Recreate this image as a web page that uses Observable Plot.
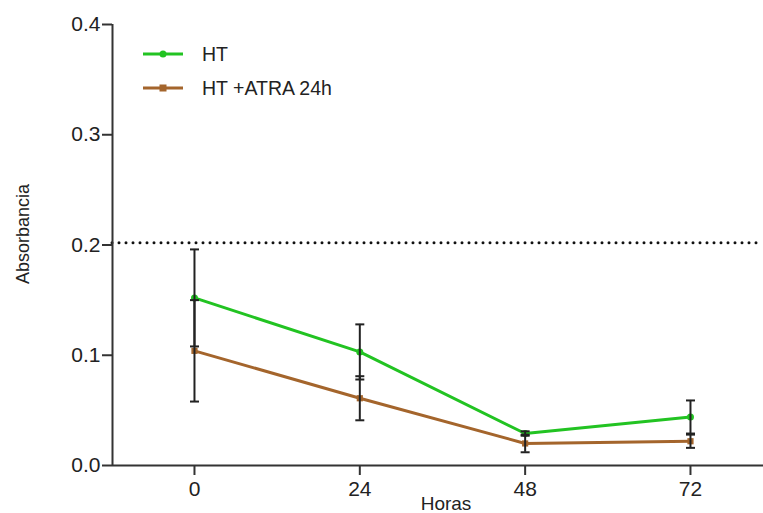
<!DOCTYPE html>
<html><head><meta charset="utf-8">
<script src="https://cdn.jsdelivr.net/npm/d3@7"></script>
<script src="https://cdn.jsdelivr.net/npm/@observablehq/plot@0.6"></script>
<style>
body{margin:0;background:#fff;}
#chart{position:relative;width:763px;height:513px;font-family:"Liberation Sans",Arial,Helvetica,sans-serif;}
#chart svg [aria-label^="x-axis"] path, #chart svg [aria-label^="x-axis"] line,
#chart svg [aria-label^="y-axis"] path, #chart svg [aria-label^="y-axis"] line{stroke-width:2;stroke:#333;}
.legend{position:absolute;left:143px;font-size:19.5px;color:#222;display:flex;align-items:center;white-space:nowrap;}
.legend svg{margin-right:19px;}
</style>
</head><body><div id="chart"></div>
<script>
const hours = [0, 24, 48, 72];
const seriesNames = ["HT", "HT +ATRA 24h"];
const htMean = [0.152, 0.103, 0.029, 0.044];
const htErr = [0.044, 0.025, 0.002, 0.015];
const atraMean = [0.104, 0.061, 0.020, 0.022];
const atraErr = [0.046, 0.020, 0.008, 0.006];
const yTicks = [0, 0.1, 0.2, 0.3, 0.4];
const threshold = [0.202];
const colors = ["#22c322", "#a4652c"];
const xDomain = [-11.9, 82.6];
const yDomain = [0, 0.4];

const rows = [];
hours.forEach((h, i) => {
  rows.push({series: seriesNames[0], hour: h, mean: htMean[i], lo: htMean[i] - htErr[i], hi: htMean[i] + htErr[i]});
});
hours.forEach((h, i) => {
  rows.push({series: seriesNames[1], hour: h, mean: atraMean[i], lo: atraMean[i] - atraErr[i], hi: atraMean[i] + atraErr[i]});
});

const capSymbol = {draw(ctx, size) { const r = Math.sqrt(size / Math.PI); ctx.moveTo(-r, 0); ctx.lineTo(r, 0); }};

const plot = Plot.plot({
  width: 763, height: 513,
  marginLeft: 112, marginRight: 0, marginTop: 24, marginBottom: 48,
  style: {fontSize: "21px", fontFamily: '"Liberation Sans", Arial, Helvetica, sans-serif', color: "#222", background: "#fff", overflow: "visible"},
  x: {domain: xDomain, ticks: hours, tickSize: 10, tickPadding: 6, label: null, tickFormat: d => String(d)},
  y: {domain: yDomain, ticks: yTicks, tickSize: 10, tickPadding: 2, tickFormat: d3.format(".1f"), label: null},
  color: {domain: seriesNames, range: colors},
  marks: [
    Plot.ruleY(threshold, {stroke: "#111", strokeWidth: 3, strokeDasharray: "0 7", strokeLinecap: "round"}),
    Plot.ruleY([yDomain[0]], {stroke: "#333", strokeWidth: 2}),
    Plot.ruleX([xDomain[0]], {y1: yDomain[0], y2: yDomain[1], stroke: "#333", strokeWidth: 2}),
    Plot.line(rows, {x: "hour", y: "mean", z: "series", stroke: "series", strokeWidth: 3}),
    Plot.dot(rows.filter(d => d.series === seriesNames[0]), {x: "hour", y: "mean", fill: "series", r: 3.5, symbol: "circle"}),
    Plot.dot(rows.filter(d => d.series === seriesNames[1]), {x: "hour", y: "mean", fill: "series", r: 3.5, symbol: "square"}),
    Plot.ruleX(rows, {x: "hour", y1: "lo", y2: "hi", stroke: "#222", strokeWidth: 2}),
    Plot.dot(rows, {x: "hour", y: "lo", symbol: capSymbol, r: 4.5, stroke: "#222", strokeWidth: 2}),
    Plot.dot(rows, {x: "hour", y: "hi", symbol: capSymbol, r: 4.5, stroke: "#222", strokeWidth: 2})
  ]
});

const chart = document.getElementById("chart");
chart.appendChild(plot);

const svg = d3.select(plot);
svg.append("text")
  .attr("transform", "translate(29,234) rotate(-90)")
  .attr("text-anchor", "middle")
  .attr("fill", "#222")
  .style("font-size", "18px")
  .text("Absorbancia");
svg.append("text")
  .attr("x", 446).attr("y", 510)
  .attr("text-anchor", "middle")
  .attr("fill", "#222")
  .style("font-size", "19px")
  .text("Horas");

// legend
const legendTops = [42, 76];
seriesNames.forEach((name, i) => {
  const div = document.createElement("div");
  div.className = "legend";
  div.style.top = legendTops[i] + "px";
  const marker = i === 0
    ? `<circle cx="20" cy="12" r="3.5" fill="${colors[i]}"/>`
    : `<rect x="16.5" y="8.5" width="7" height="7" fill="${colors[i]}"/>`;
  div.innerHTML = `<svg width="40" height="24"><line x1="0" x2="40" y1="12" y2="12" stroke="${colors[i]}" stroke-width="3"/>${marker}</svg><span>${name}</span>`;
  chart.appendChild(div);
});
</script>
</body></html>
